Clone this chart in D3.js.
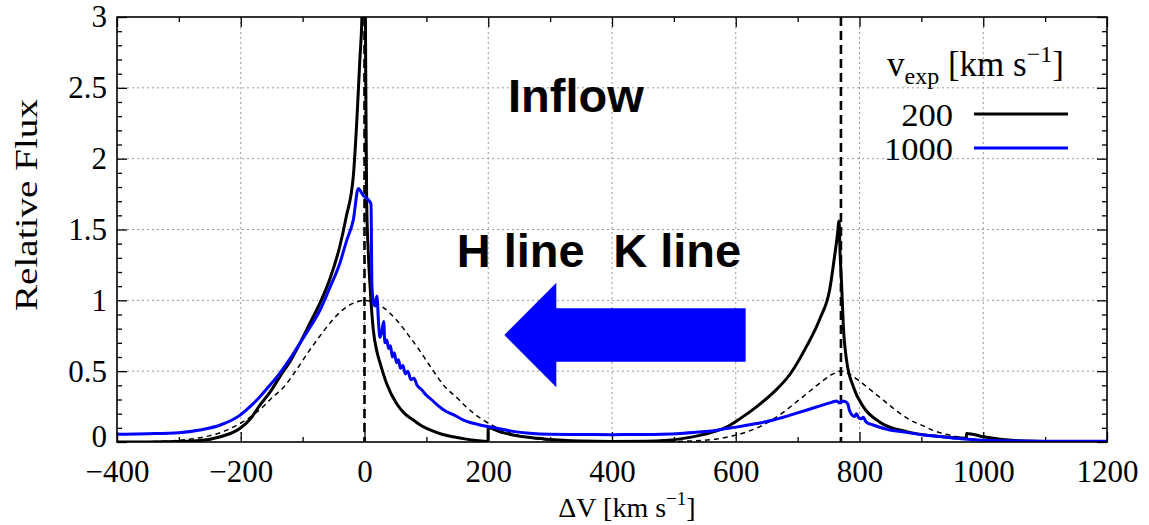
<!DOCTYPE html>
<html>
<head>
<meta charset="utf-8">
<script src="https://d3js.org/d3.v7.min.js"></script>
<style>
  html, body { margin: 0; padding: 0; background: #fff; }
  svg { display: block; }
  .serif { font-family: "Liberation Serif", "Times New Roman", serif; }
  .sans { font-family: "Liberation Sans", Arial, sans-serif; font-weight: bold; }
</style>
</head>
<body>
<svg id="chart" width="1149" height="525"></svg>
<script>
// Mg II h & k emission profiles (inflow case), relative flux vs velocity offset.
const xTicks = [-400, -200, 0, 200, 400, 600, 800, 1000, 1200];
const xTickLabels = ["\u2212400", "\u2212200", "0", "200", "400", "600", "800", "1000", "1200"];
const xMinorTicks = [-300, -100, 100, 300, 500, 700, 900, 1100];
const yTicks = [0, 0.5, 1, 1.5, 2, 2.5, 3];
const yTickLabels = ["0", "0.5", "1", "1.5", "2", "2.5", "3"];
const yMinorTicks = [0.1, 0.2, 0.3, 0.4, 0.6, 0.7, 0.8, 0.9, 1.1, 1.2, 1.3, 1.4, 1.6, 1.7, 1.8, 1.9, 2.1, 2.2, 2.3, 2.4, 2.6, 2.7, 2.8, 2.9];

// line centres (km/s)
const lineCentres = [0, 770];

// v_exp = 200 km/s
const vel200 = [-400, -350, -300, -266, -233, -201, -185, -169, -153, -137, -120, -104, -88, -72, -56, -40, -30, -18, -12, -7.5, -4.5, -2.5, -1, 0.5, 2, 3.5, 6, 9, 14, 20, 25, 36, 52, 65, 79, 92, 106, 125, 143, 162, 181, 199.5, 200, 220, 240, 265, 294, 320, 348, 400, 456, 485, 510, 540, 564, 585, 607, 634, 661, 688, 715, 736, 752, 760, 764, 767, 768.5, 771, 774, 779, 790, 806, 833, 876, 930, 972.5, 973, 1000, 1027, 1060, 1100, 1150, 1200];
const flux200 = [0.0, 0.0, 0.003, 0.01, 0.037, 0.097, 0.16, 0.26, 0.35, 0.46, 0.57, 0.70, 0.84, 0.98, 1.15, 1.38, 1.58, 1.88, 2.3, 2.7, 2.95, 3.3, 3.6, 3.6, 2.6, 1.7, 1.35, 1.1, 0.8, 0.64, 0.56, 0.41, 0.27, 0.2, 0.155, 0.115, 0.085, 0.055, 0.037, 0.022, 0.01, 0.003, 0.1, 0.07, 0.05, 0.033, 0.02, 0.012, 0.007, 0.004, 0.005, 0.01, 0.022, 0.045, 0.072, 0.105, 0.165, 0.25, 0.35, 0.48, 0.68, 0.87, 1.08, 1.32, 1.45, 1.56, 1.35, 1.12, 0.81, 0.58, 0.39, 0.25, 0.14, 0.073, 0.038, 0.026, 0.06, 0.037, 0.02, 0.008, 0.003, 0.001, 0.0];

// v_exp = 1000 km/s
const vel1000 = [-400, -350, -300, -266, -233, -201, -185, -169, -153, -137, -120, -104, -88, -72, -56, -40, -29, -18, -10, -2, 6, 10.5, 12, 14, 17, 20, 23, 25, 28, 31, 33, 36, 39, 42, 45, 48, 52, 55, 58, 62, 66, 70, 75, 80, 85, 92, 100, 108, 118, 130, 145, 160, 187, 214, 240, 267, 300, 350, 400, 450, 480, 510, 540, 564, 585, 601, 634, 661, 688, 715, 740, 755, 763, 768, 772, 777, 781, 784, 788, 792, 795, 799, 803, 806, 811, 822, 849, 876, 903, 930, 957, 1000, 1027, 1100, 1200];
const flux1000 = [0.054, 0.058, 0.066, 0.085, 0.12, 0.19, 0.25, 0.32, 0.40, 0.485, 0.59, 0.70, 0.81, 0.93, 1.09, 1.26, 1.42, 1.57, 1.79, 1.74, 1.71, 1.68, 1.1, 1.0, 0.96, 1.03, 0.82, 0.74, 0.78, 0.85, 0.70, 0.72, 0.66, 0.68, 0.60, 0.63, 0.56, 0.58, 0.52, 0.54, 0.48, 0.50, 0.44, 0.45, 0.40, 0.37, 0.33, 0.30, 0.26, 0.22, 0.19, 0.155, 0.12, 0.097, 0.075, 0.062, 0.055, 0.053, 0.052, 0.053, 0.055, 0.06, 0.07, 0.08, 0.095, 0.105, 0.13, 0.155, 0.19, 0.226, 0.26, 0.28, 0.29, 0.275, 0.29, 0.285, 0.27, 0.22, 0.19, 0.18, 0.2, 0.17, 0.165, 0.175, 0.14, 0.12, 0.085, 0.068, 0.05, 0.038, 0.026, 0.012, 0.008, 0.005, 0.005];

// intrinsic (unscattered) profile
const velIntr = [-400, -350, -300, -250, -230, -210, -190, -165, -150, -130, -110, -90, -70, -50, -30, -15, 0, 15, 30, 50, 70, 90, 110, 130, 150, 165, 190, 210, 230, 250, 300, 350, 400, 470, 520, 570, 620, 640, 660, 680, 700, 720, 740, 755, 770, 785, 800, 820, 840, 860, 880, 905, 920, 940, 960, 980, 1000, 1020, 1070, 1120, 1200];
const fluxIntr = [0.0, 0.002, 0.012, 0.045, 0.07, 0.11, 0.16, 0.245, 0.31, 0.39, 0.51, 0.64, 0.76, 0.87, 0.95, 0.985, 1.0, 0.985, 0.95, 0.87, 0.76, 0.64, 0.51, 0.39, 0.31, 0.245, 0.16, 0.11, 0.07, 0.045, 0.012, 0.002, 0.0, 0.002, 0.006, 0.022, 0.075, 0.11, 0.16, 0.22, 0.29, 0.36, 0.43, 0.475, 0.5, 0.475, 0.43, 0.36, 0.29, 0.22, 0.16, 0.11, 0.08, 0.055, 0.035, 0.022, 0.014, 0.006, 0.002, 0.0, 0.0];

// annotation arrow (data units)
const arrowVel = [226, 310, 310, 616, 616, 310, 310];
const arrowFlux = [0.755, 1.124, 0.944, 0.944, 0.567, 0.567, 0.386];

const legendLabels = ["200", "1000"];
const legendColors = ["#000000", "#0000ff"];

const svg = d3.select("#chart");
const M = { left: 117, right: 1107, top: 17, bottom: 442 };

const x = d3.scaleLinear().domain([-400, 1200]).range([M.left, M.right]);
const y = d3.scaleLinear().domain([0, 3]).range([M.bottom, M.top]);

svg.append("defs").append("clipPath").attr("id", "plotclip")
  .append("rect").attr("x", M.left).attr("y", M.top)
  .attr("width", M.right - M.left).attr("height", M.bottom - M.top);

// grid
const grid = svg.append("g");
grid.selectAll("line.gx").data(xTicks.slice(1, -1)).join("line")
  .attr("x1", d => x(d)).attr("x2", d => x(d)).attr("y1", M.top).attr("y2", M.bottom)
  .attr("stroke", "#9a9a9a").attr("stroke-width", 1).attr("stroke-dasharray", "2,3");
grid.selectAll("line.gy").data(yTicks.slice(1, -1)).join("line")
  .attr("y1", d => y(d)).attr("y2", d => y(d)).attr("x1", M.left).attr("x2", M.right)
  .attr("stroke", "#9a9a9a").attr("stroke-width", 1).attr("stroke-dasharray", "2,3");

// axes with inward ticks on all four sides
function styleAxis(g) {
  g.select(".domain").remove();
  g.selectAll(".tick line").attr("stroke", "#000").attr("stroke-width", 1.3);
}
const fmtX = (d) => xTickLabels[xTicks.indexOf(d)];
const fmtY = (d) => yTickLabels[yTicks.indexOf(d)];

const bottomAx = svg.append("g").attr("transform", `translate(0,${M.bottom})`)
  .call(d3.axisBottom(x).tickValues(xTicks).tickSize(-10).tickPadding(18).tickFormat(fmtX));
styleAxis(bottomAx);
bottomAx.selectAll(".tick text").attr("class", "serif").attr("font-size", 31).attr("fill", "#000");
svg.append("g").attr("transform", `translate(0,${M.bottom})`)
  .call(d3.axisBottom(x).tickValues(xMinorTicks).tickSize(-5).tickFormat("")).call(styleAxis);
svg.append("g").attr("transform", `translate(0,${M.top})`)
  .call(d3.axisTop(x).tickValues(xTicks).tickSize(-10).tickFormat("")).call(styleAxis);
svg.append("g").attr("transform", `translate(0,${M.top})`)
  .call(d3.axisTop(x).tickValues(xMinorTicks).tickSize(-5).tickFormat("")).call(styleAxis);

const leftAx = svg.append("g").attr("transform", `translate(${M.left},0)`)
  .call(d3.axisLeft(y).tickValues(yTicks).tickSize(-10).tickPadding(10).tickFormat(fmtY));
styleAxis(leftAx);
leftAx.selectAll(".tick text").attr("class", "serif").attr("font-size", 31).attr("fill", "#000");
// keep the bottom "0" clear of the first x label
leftAx.selectAll(".tick text").filter(d => d === 0).attr("y", -5);
svg.append("g").attr("transform", `translate(${M.left},0)`)
  .call(d3.axisLeft(y).tickValues(yMinorTicks).tickSize(-5).tickFormat("")).call(styleAxis);
svg.append("g").attr("transform", `translate(${M.right},0)`)
  .call(d3.axisRight(y).tickValues(yTicks).tickSize(-10).tickFormat("")).call(styleAxis);
svg.append("g").attr("transform", `translate(${M.right},0)`)
  .call(d3.axisRight(y).tickValues(yMinorTicks).tickSize(-5).tickFormat("")).call(styleAxis);

const plot = svg.append("g").attr("clip-path", "url(#plotclip)");

// line-centre markers
plot.selectAll("line.centre").data(lineCentres).join("line")
  .attr("x1", d => x(d)).attr("x2", d => x(d)).attr("y1", M.top).attr("y2", M.bottom)
  .attr("stroke", "#000").attr("stroke-width", 2.6).attr("stroke-dasharray", "9,5");

const lineGen = d3.line().x(d => x(d[0])).y(d => y(d[1])).curve(d3.curveMonotoneX);
const zip = (a, b) => a.map((v, i) => [v, b[i]]);

plot.append("path").datum(zip(velIntr, fluxIntr)).attr("d", lineGen)
  .attr("fill", "none").attr("stroke", "#000").attr("stroke-width", 1.5).attr("stroke-dasharray", "5,4");

plot.append("path").datum(zip(vel200, flux200)).attr("d", lineGen)
  .attr("fill", "none").attr("stroke", "#000").attr("stroke-width", 3).attr("stroke-linejoin", "round");

plot.append("path").datum(zip(vel1000, flux1000)).attr("d", lineGen)
  .attr("fill", "none").attr("stroke", "#0000ff").attr("stroke-width", 3).attr("stroke-linejoin", "round");

// frame
svg.append("rect").attr("x", M.left).attr("y", M.top)
  .attr("width", M.right - M.left).attr("height", M.bottom - M.top)
  .attr("fill", "none").attr("stroke", "#000").attr("stroke-width", 1.6);

// annotation arrow and labels
svg.append("polygon")
  .attr("points", arrowVel.map((v, i) => [x(v), y(arrowFlux[i])].join(",")).join(" "))
  .attr("fill", "#0000ff");

svg.append("text").attr("class", "sans").attr("x", x(232)).attr("y", y(2.33))
  .attr("font-size", 47).attr("fill", "#000").text("Inflow");
svg.append("text").attr("class", "sans").attr("x", x(149)).attr("y", y(1.235))
  .attr("font-size", 47).attr("fill", "#000").text("H line");
svg.append("text").attr("class", "sans").attr("x", x(402)).attr("y", y(1.235))
  .attr("font-size", 47).attr("fill", "#000").text("K line");

// axis titles
const xt = svg.append("text").attr("class", "serif").attr("x", 627).attr("y", 517)
  .attr("text-anchor", "middle").attr("font-size", 28).attr("fill", "#000");
xt.append("tspan").text("\u0394V [km s");
xt.append("tspan").attr("font-size", 19).attr("dy", -12).text("\u22121");
xt.append("tspan").attr("dy", 12).text("]");

svg.append("text").attr("class", "serif")
  .attr("transform", "translate(37,205) rotate(-90)")
  .attr("text-anchor", "middle").attr("font-size", 31).attr("fill", "#000")
  .attr("textLength", 212).attr("lengthAdjust", "spacingAndGlyphs")
  .text("Relative Flux");

// legend
const lt = svg.append("text").attr("class", "serif").attr("x", 887).attr("y", 76)
  .attr("font-size", 35).attr("fill", "#000");
lt.append("tspan").text("v");
lt.append("tspan").attr("font-size", 24).attr("dy", 8).text("exp");
lt.append("tspan").attr("dy", -8).text(" [km s");
lt.append("tspan").attr("font-size", 24).attr("dy", -14).text("\u22121");
lt.append("tspan").attr("dy", 14).text("]");

const lg = svg.append("g").selectAll("g").data(legendLabels).join("g")
  .attr("transform", (d, i) => `translate(0,${126 + i * 34})`);
lg.append("text").attr("class", "serif")
  .attr("transform", "translate(953,0) scale(1.08,1)")
  .attr("text-anchor", "end").attr("font-size", 32).attr("fill", "#000").text(d => d);
lg.append("line").attr("x1", 974).attr("x2", 1068).attr("y1", -12).attr("y2", -12)
  .attr("stroke", (d, i) => legendColors[i]).attr("stroke-width", 3);
</script>
</body>
</html>
